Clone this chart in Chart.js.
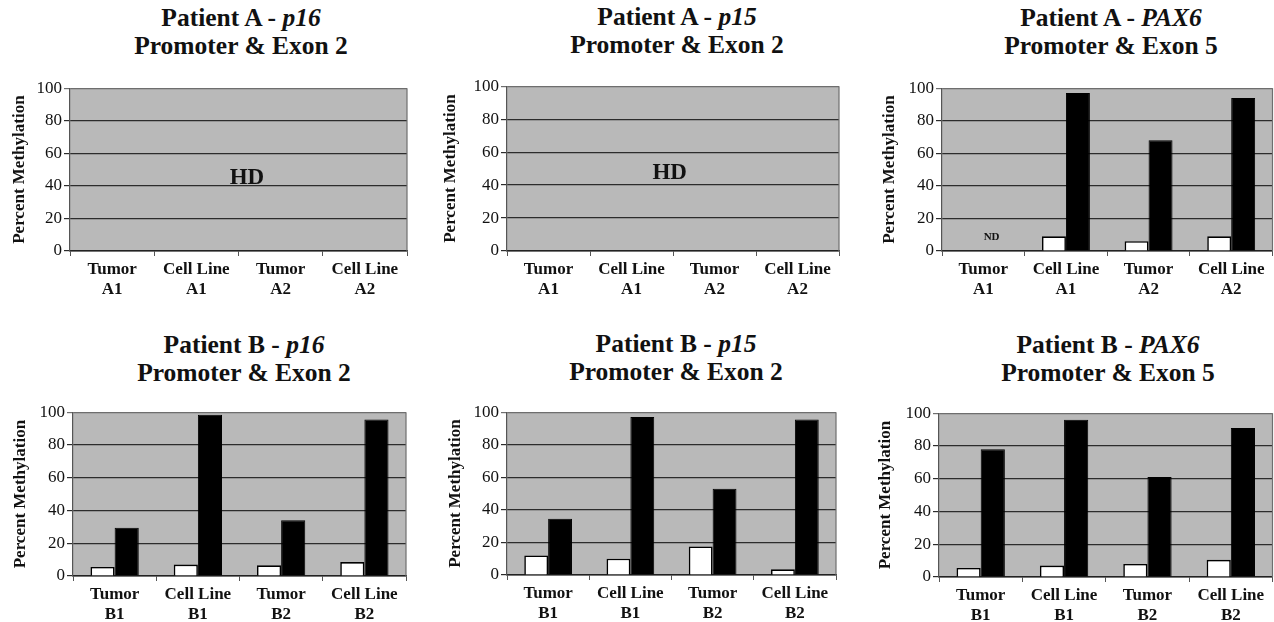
<!DOCTYPE html>
<html><head><meta charset="utf-8">
<script src="https://cdn.jsdelivr.net/npm/chart.js@4"></script>
<style>
html,body{margin:0;padding:0;background:#fff;width:1274px;height:622px;overflow:hidden;position:relative;font-family:"Liberation Serif","DejaVu Serif",serif;}
.panel{position:absolute;}
.ttl{position:absolute;font-weight:bold;font-size:25.5px;line-height:28px;text-align:center;white-space:nowrap;color:#111;transform:translateX(-50%);}
.ttl i{font-style:italic;}
</style></head><body>
<script>
// ---- data ----
const categoriesA = [["Tumor","A1"],["Cell Line","A1"],["Tumor","A2"],["Cell Line","A2"]];
const categoriesB = [["Tumor","B1"],["Cell Line","B1"],["Tumor","B2"],["Cell Line","B2"]];
const yTicks = [0,20,40,60,80,100];

const p16A_white = [null,null,null,null];
const p16A_black = [null,null,null,null];
const p15A_white = [null,null,null,null];
const p15A_black = [null,null,null,null];
const pax6A_white = [null, 9, 6, 9];
const pax6A_black = [null, 97, 68, 94];

const p16B_white = [5.5, 7, 6.5, 8.5];
const p16B_black = [29.5, 98.5, 34, 95.5];
const p15B_white = [12, 10, 17.5, 3.5];
const p15B_black = [34.5, 97, 53, 95.5];
const pax6B_white = [5.5, 7, 8, 10.5];
const pax6B_black = [78, 96, 61, 91];

const yTitle = "Percent Methylation";

// ---- layout of panels ----
const panels = [
  {patient:"A", gene:"p16", region:"Promoter & Exon 2", cats:categoriesA, w:p16A_white, b:p16A_black,
   L:9, PL:70, PR:407, PT:88, PB:251, tx:241, ty:4, note:{text:"HD", x:1.6, y:45, size:23}},
  {patient:"A", gene:"p15", region:"Promoter & Exon 2", cats:categoriesA, w:p15A_white, b:p15A_black,
   L:440, PL:507, PR:839, PT:86, PB:251, tx:677, ty:3, note:{text:"HD", x:1.46, y:47, size:23}},
  {patient:"A", gene:"PAX6", region:"Promoter & Exon 5", cats:categoriesA, w:pax6A_white, b:pax6A_black,
   L:879, PL:942, PR:1272.5, PT:88, PB:251, tx:1111, ty:4, note:{text:"ND", x:0.1, y:8.6, size:11}},
  {patient:"B", gene:"p16", region:"Promoter & Exon 2", cats:categoriesB, w:p16B_white, b:p16B_black,
   L:10, PL:73, PR:406, PT:412, PB:576, tx:244, ty:331, note:null},
  {patient:"B", gene:"p15", region:"Promoter & Exon 2", cats:categoriesB, w:p15B_white, b:p15B_black,
   L:445, PL:507, PR:836, PT:412, PB:575, tx:676, ty:329.5, note:null},
  {patient:"B", gene:"PAX6", region:"Promoter & Exon 5", cats:categoriesB, w:pax6B_white, b:pax6B_black,
   L:875, PL:939, PR:1272.5, PT:413, PB:577, tx:1108, ty:331, note:null}
];

const FONT = '"Liberation Serif", "DejaVu Serif", serif';

const plotDeco = {
  id:'plotDeco',
  beforeDraw(chart){
    const {ctx, chartArea:a} = chart;
    ctx.save();
    ctx.fillStyle = '#b9b9b9';
    ctx.fillRect(a.left, a.top, a.right-a.left, a.bottom-a.top);
    ctx.restore();
  },
  afterDraw(chart){
    const {ctx, chartArea:a} = chart;
    ctx.save();
    ctx.strokeStyle = '#6e6e6e';
    ctx.lineWidth = 1.2;
    ctx.beginPath();
    ctx.moveTo(a.right, a.top); ctx.lineTo(a.right, a.bottom);
    ctx.stroke();
    const n = chart.options.plugins.panelNote;
    if (n && n.text){
      const x = chart.scales.x.getPixelForValue(n.x);
      const y = chart.scales.y.getPixelForValue(n.y);
      ctx.fillStyle = '#111';
      ctx.font = 'bold ' + n.size + 'px ' + FONT;
      ctx.textAlign = 'center';
      ctx.textBaseline = 'middle';
      ctx.fillText(n.text, x, y);
    }
    ctx.restore();
  }
};

panels.forEach((p) => {
  const t = document.createElement('div');
  t.className = 'ttl';
  t.style.left = p.tx + 'px';
  t.style.top = p.ty + 'px';
  t.innerHTML = 'Patient ' + p.patient + ' - <i>' + p.gene + '</i><br>' + p.region.replace('&','&amp;');
  document.body.appendChild(t);

  const padTop = 12, xH = 60, padRight = 1.5;
  const top = p.PT - padTop;
  const W = Math.ceil(p.PR + padRight - p.L);
  const H = Math.round(p.PB + xH - top);
  const div = document.createElement('div');
  div.className = 'panel';
  div.style.left = p.L + 'px';
  div.style.top = top + 'px';
  div.style.width = W + 'px';
  div.style.height = H + 'px';
  const cv = document.createElement('canvas');
  cv.width = W; cv.height = H;
  cv.style.width = W + 'px'; cv.style.height = H + 'px';
  div.appendChild(cv);
  document.body.appendChild(div);

  const yW = p.PL - p.L;
  new Chart(cv, {
    type:'bar',
    data:{
      labels:p.cats,
      datasets:[
        {label:'white', data:p.w, backgroundColor:'#ffffff', borderColor:'#000', borderWidth:1.6,
         categoryPercentage:0.58, barPercentage:1.0},
        {label:'black', data:p.b, backgroundColor:'#000000', borderColor:'#000', borderWidth:1,
         categoryPercentage:0.58, barPercentage:1.0}
      ]
    },
    options:{
      responsive:false,
      animation:false,
      devicePixelRatio:1,
      layout:{padding:{top:padTop, left:0, right:W - (p.PR - p.L), bottom:0}},
      plugins:{legend:{display:false}, tooltip:{enabled:false}, panelNote:p.note},
      scales:{
        x:{
          offset:true,
          grid:{display:true, drawOnChartArea:false, drawTicks:true, tickLength:5, color:'#555', offset:true},
          border:{display:true, color:'#222', width:1.5},
          ticks:{color:'#111', font:{family:FONT, size:17, weight:'bold', lineHeight:1.2}, padding:3, maxRotation:0, autoSkip:false},
          afterFit(s){ s.height = xH; }
        },
        y:{
          min:0, max:100,
          afterBuildTicks(s){ s.ticks = yTicks.map(v => ({value:v})); },
          grid:{color:(c) => (c.tick && c.tick.value === 100) ? '#6e6e6e' : '#2c2c2c', lineWidth:1.2, tickLength:6, drawTicks:true},
          border:{display:true, color:'#555', width:1.2},
          ticks:{color:'#111', font:{family:FONT, size:17}, padding:2},
          title:{display:true, text:yTitle, color:'#111', font:{family:FONT, size:17, weight:'bold', lineHeight:1.2}, padding:{top:0, bottom:0}},
          afterFit(s){ s.width = yW; }
        }
      }
    },
    plugins:[plotDeco]
  });
});
</script>
</body></html>
